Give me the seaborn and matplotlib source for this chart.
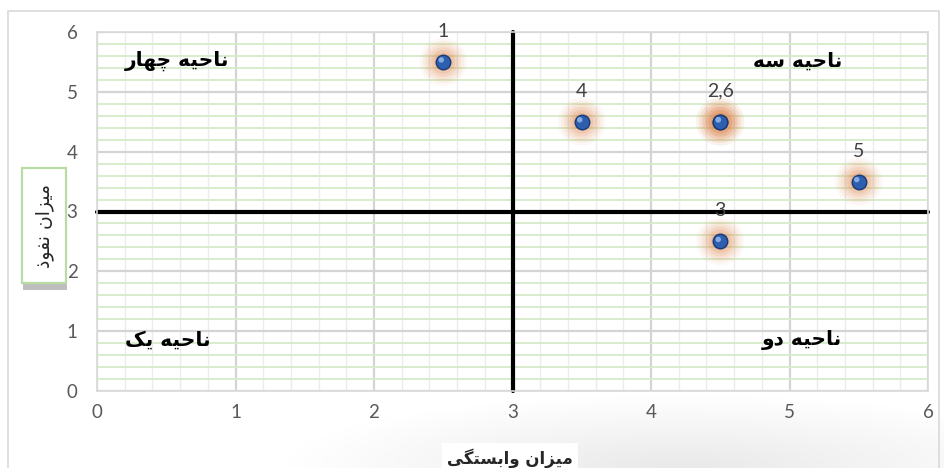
import numpy as np
import pandas as pd
import matplotlib
matplotlib.use("Agg")
import matplotlib.pyplot as plt
import matplotlib.patches as mpatches
import matplotlib.patheffects as pe
from matplotlib.ticker import MultipleLocator
import seaborn as sns

# ---- data ---------------------------------------------------------------
item_ids = [1, 2, 3, 4, 5, 6]
dependence = [2.5, 4.5, 4.5, 3.5, 5.5, 4.5]   # میزان وابستگی
influence = [5.5, 4.5, 2.5, 4.5, 3.5, 4.5]    # میزان نفوذ
axis_ticks = [0, 1, 2, 3, 4, 5, 6]
midpoint = 3

x_title = "میزان وابستگی"
y_title = "میزان نفوذ"
quadrant_titles = ["ناحیه چهار", "ناحیه سه", "ناحیه یک", "ناحیه دو"]
quadrant_spots = [(0.2, 5.52), (5.38, 5.52), (0.2, 0.85), (5.38, 0.85)]
quadrant_align = ["left", "right", "left", "right"]

# ---- minimal Persian shaping (presentation forms + visual order) --------
# letter: (isolated, final, initial, medial); None = does not join forward
FORMS = {
    "ا": ("\uFE8D", "\uFE8E", None, None),
    "ب": ("\uFE8F", "\uFE90", "\uFE91", "\uFE92"),
    "ت": ("\uFE95", "\uFE96", "\uFE97", "\uFE98"),
    "ح": ("\uFEA1", "\uFEA2", "\uFEA3", "\uFEA4"),
    "د": ("\uFEA9", "\uFEAA", None, None),
    "ذ": ("\uFEAB", "\uFEAC", None, None),
    "ر": ("\uFEAD", "\uFEAE", None, None),
    "ز": ("\uFEAF", "\uFEB0", None, None),
    "س": ("\uFEB1", "\uFEB2", "\uFEB3", "\uFEB4"),
    "ف": ("\uFED1", "\uFED2", "\uFED3", "\uFED4"),
    "م": ("\uFEE1", "\uFEE2", "\uFEE3", "\uFEE4"),
    "ن": ("\uFEE5", "\uFEE6", "\uFEE7", "\uFEE8"),
    "ه": ("\uFEE9", "\uFEEA", "\uFEEB", "\uFEEC"),
    "و": ("\uFEED", "\uFEEE", None, None),
    "ی": ("\uFBFC", "\uFBFD", "\uFBFE", "\uFBFF"),
    "چ": ("\uFB7A", "\uFB7B", "\uFB7C", "\uFB7D"),
    "ک": ("\uFB8E", "\uFB8F", "\uFB90", "\uFB91"),
    "گ": ("\uFB92", "\uFB93", "\uFB94", "\uFB95"),
}


def shape_fa(text):
    out = []
    for i, ch in enumerate(text):
        if ch not in FORMS:
            out.append(ch)
            continue
        prev = text[i - 1] if i > 0 else ""
        nxt = text[i + 1] if i + 1 < len(text) else ""
        join_prev = prev in FORMS and FORMS[prev][2] is not None
        join_next = nxt in FORMS and FORMS[ch][2] is not None
        iso, fin, ini, med = FORMS[ch]
        if join_prev and join_next:
            out.append(med)
        elif join_prev:
            out.append(fin)
        elif join_next:
            out.append(ini)
        else:
            out.append(iso)
    return "".join(out)[::-1]


# ---- figure ---------------------------------------------------------------
sns.set_theme(style="white")
plt.rcParams["font.family"] = ["Lato", "DejaVu Sans"]

W, H, DPI = 944, 468, 100
fig = plt.figure(figsize=(W / DPI, H / DPI), dpi=DPI)
fig.patch.set_facecolor("white")


def px_box(x0, y0, x1, y1):
    """Figure-fraction rectangle from pixel corners (top-left origin)."""
    return (x0 / W, 1 - y1 / H), (x1 - x0) / W, (y1 - y0) / H


# soft grey shading in the lower part of the chart area
yy, xx = np.mgrid[0:60, 0:200]
grad = np.clip(1 - np.hypot((xx - 120) / 120.0, (yy - 60) / 55.0), 0, 1)
bg = fig.add_axes([0.30, 0.0, 0.70, 0.17], zorder=-5)
bg.imshow(grad, cmap=matplotlib.colors.LinearSegmentedColormap.from_list(
    "shade", ["#ffffff", "#e9e9e9"]), aspect="auto", origin="upper",
    extent=[0, 1, 0, 1], interpolation="bilinear")
bg.set_axis_off()

# chart border
fig.patches.append(mpatches.Rectangle((8 / W, -0.01), (W - 13) / W, 1 - 11 / H + 0.01,
                                      transform=fig.transFigure, fill=False,
                                      ec="#d9d9d9", lw=1.2, zorder=-4))

ax = fig.add_axes([97 / W, 1 - 391 / H, (928 - 97) / W, (391 - 32) / H])
ax.set_facecolor("none")

ax.set_xlim(axis_ticks[0], axis_ticks[-1])
ax.set_ylim(axis_ticks[0], axis_ticks[-1])
ax.set_xticks(axis_ticks)
ax.set_yticks(axis_ticks)
ax.xaxis.set_minor_locator(MultipleLocator(0.2))
ax.yaxis.set_minor_locator(MultipleLocator(0.2))
ax.grid(which="minor", axis="x", color="#ececec", lw=1.0, zorder=0)
ax.grid(which="minor", axis="y", color="#d6ebc8", lw=1.3, zorder=0)
ax.grid(which="major", axis="both", color="#d4d4d4", lw=1.6, zorder=0.5)
ax.set_axisbelow(True)
ax.tick_params(which="both", length=0)
ax.tick_params(axis="y", pad=14, labelsize=13.5, labelcolor="#595959")
ax.tick_params(axis="x", pad=9, labelsize=13.5, labelcolor="#595959")
for s in ax.spines.values():
    s.set_color("#d9d9d9")
    s.set_linewidth(1.2)

# quadrant divider lines
ax.axvline(midpoint, color="black", lw=3, zorder=2, clip_on=False)
ax.axhline(midpoint, color="black", lw=3, zorder=2, clip_on=False)

df = pd.DataFrame({"id": item_ids, "x": dependence, "y": influence})

# orange glow around each point
for size, alpha in [(48, 0.05), (42, 0.07), (36, 0.09), (30, 0.12),
                    (24, 0.15), (18, 0.2)]:
    sns.scatterplot(data=df, x="x", y="y", s=(size * 0.72) ** 2, color="#d97a3c",
                    alpha=alpha, edgecolor="none", linewidth=0, ax=ax, zorder=3,
                    legend=False)

# blue spheres
sns.scatterplot(data=df, x="x", y="y", s=(14.5 * 0.72) ** 2, color="#2d5fae",
                edgecolor="#173a7a", linewidth=1.0, ax=ax, zorder=4, legend=False)
sns.scatterplot(data=df, x="x", y="y", s=(5.5 * 0.72) ** 2, color="#86aae2",
                edgecolor="none", linewidth=0, ax=ax, zorder=5, legend=False)
ax.collections[-1].set_offset_transform(matplotlib.transforms.offset_copy(
    ax.transData, fig=fig, x=-2, y=2, units="dots"))

# point labels (coincident points share one label)
groups = df.groupby(["x", "y"], sort=False)["id"].apply(
    lambda s: ",".join(str(v) for v in sorted(s)))
for (px, py), lab in groups.items():
    ax.annotate(lab, (px, py), xytext=(0, 22), textcoords="offset points",
                ha="center", va="center", fontsize=14, color="#404040", zorder=6)

ax.set_xlabel("")
ax.set_ylabel("")

# quadrant titles
for (qx, qy), txt, ha in zip(quadrant_spots, quadrant_titles, quadrant_align):
    ax.text(qx, qy, shape_fa(txt), ha=ha, va="center", fontsize=14.5,
            fontweight="bold", family=["DejaVu Sans"], color="black", zorder=6)

# x-axis title
fig.text(510 / W, 1 - 458 / H, shape_fa(x_title), ha="center", va="center",
         fontsize=12, fontweight="bold", family=["DejaVu Sans"],
         color="#262626",
         bbox=dict(boxstyle="square,pad=0.3", fc="white", ec="none"))

# y-axis title in a framed box with a drop shadow
xy, bw, bh = px_box(22, 168, 66, 283)
frame = mpatches.Rectangle(xy, bw, bh, transform=fig.transFigure, fc="white",
                           ec="#b8dca4", lw=1.6, zorder=5)
frame.set_path_effects([
    pe.SimplePatchShadow(offset=(1, -5), shadow_rgbFace="#6f6f6f", alpha=0.45),
    pe.Normal()])
fig.patches.append(frame)
fig.text(44 / W, 1 - 226 / H, shape_fa(y_title), ha="center", va="center",
         rotation=90, fontsize=13.5, family=["DejaVu Sans"], color="#262626",
         zorder=6)

fig.savefig("out.png", dpi=DPI, facecolor="white")
